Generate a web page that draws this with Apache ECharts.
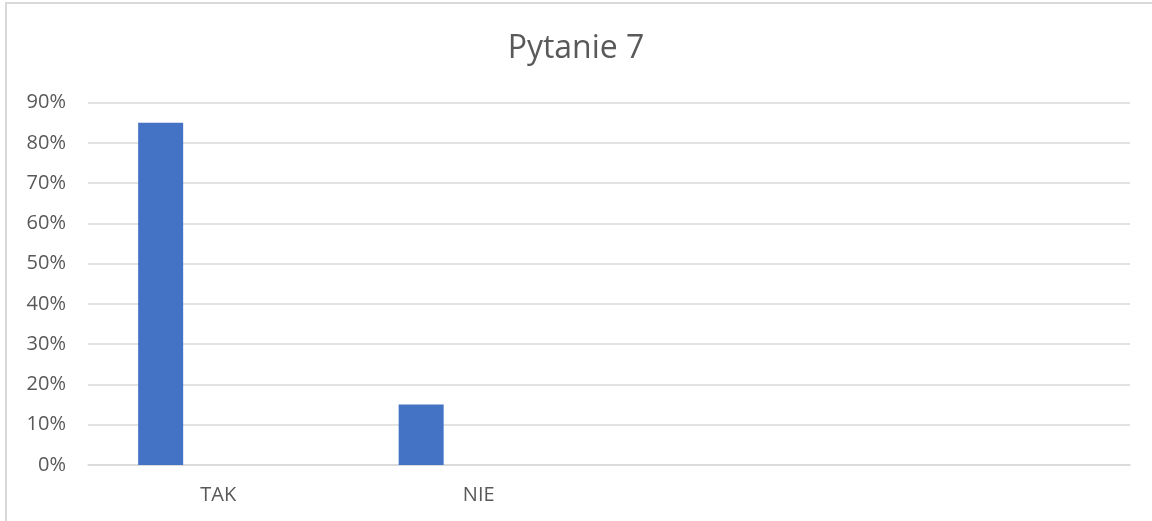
<!DOCTYPE html>
<html>
<head>
<meta charset="utf-8">
<script src="https://cdn.jsdelivr.net/npm/echarts@6/dist/echarts.min.js"></script>
<style>
html,body{margin:0;padding:0;background:#fff;}
#chart{width:1152px;height:521px;}
</style>
</head>
<body>
<div id="chart"></div>
<script>
const title = 'Pytanie 7';
const categories = ['TAK', 'NIE', '', ''];
const values = [85, 15, null, null];
const yTicks = [0, 10, 20, 30, 40, 50, 60, 70, 80, 90];

const chart = echarts.init(document.getElementById('chart'));
const emptySeries = categories.map(() => null);
chart.setOption({
  animation: false,
  backgroundColor: '#ffffff',
  title: {
    text: title,
    left: 'center',
    top: 28,
    textStyle: { fontFamily: 'Open Sans', fontSize: 32, fontWeight: 'normal', color: '#595959' }
  },
  graphic: [{
    type: 'rect',
    shape: { x: 6, y: 3, width: 1160, height: 530 },
    style: { fill: 'none', stroke: '#d9d9d9', lineWidth: 2 },
    silent: true
  }],
  grid: { left: 88, right: 22, top: 102.7, bottom: 56, containLabel: false },
  xAxis: {
    type: 'category',
    data: categories,
    axisLine: { show: true, lineStyle: { color: '#d9d9d9', width: 1.5 } },
    axisTick: { show: false },
    axisLabel: { fontFamily: 'Open Sans', fontSize: 20, color: '#595959', margin: 20 }
  },
  yAxis: {
    type: 'value',
    min: yTicks[0],
    max: yTicks[yTicks.length - 1],
    interval: 10,
    axisLine: { show: false },
    axisTick: { show: false },
    splitLine: { lineStyle: { color: '#d9d9d9', width: 1.5 } },
    axisLabel: { fontFamily: 'Open Sans', fontSize: 20, color: '#595959', margin: 22, formatter: v => v + '%' }
  },
  series: [
    { type: 'bar', data: values, barWidth: 45, barGap: '28%', itemStyle: { color: '#4472c4' } },
    { type: 'bar', data: emptySeries, barWidth: 45, barGap: '28%' },
    { type: 'bar', data: emptySeries, barWidth: 45, barGap: '28%' }
  ]
});
</script>
</body>
</html>
